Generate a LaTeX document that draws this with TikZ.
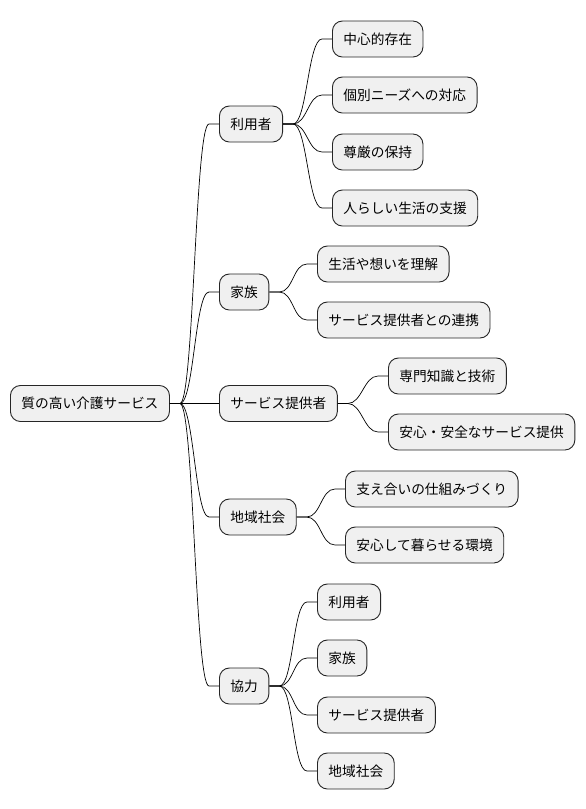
\documentclass[tikz,border=0pt]{standalone}
\usepackage{fontspec}
\setmainfont{Noto Sans CJK JP}
\usetikzlibrary{positioning}
\def\Branch#1#2{
    \draw[link] (#1.east) -- ([xshift=10pt]#1.east)
        .. controls ([xshift=24pt]#1.east) and ([xshift=-24pt]#2.west)
        .. ([xshift=-10pt]#2.west) -- (#2.west);
}
\begin{document}
\begin{tikzpicture}[x=1pt,y=-1pt,
    topic/.style={draw=black!85,fill=black!6,rounded corners=10pt,line width=0.9pt,
        minimum height=36pt,inner xsep=11pt,inner ysep=0pt,
        font=\fontsize{13.7}{16}\selectfont},
    link/.style={draw=black,line width=0.7pt}]
    \useasboundingbox (0,0) rectangle (586,809);
    % root
    \node[topic,anchor=west] (root) at (10,403.5) {質の高い介護サービス};
    % first level
    \node[topic,anchor=west] (user) at (219,124) {利用者};
    \node[topic,anchor=west] (family) at (219,292) {家族};
    \node[topic,anchor=west] (provider) at (219,403.5) {サービス提供者};
    \node[topic,anchor=west] (community) at (219,517) {地域社会};
    \node[topic,anchor=west] (coop) at (219,686) {協力};
    % leaves
    \node[topic,anchor=west] (user-1) at (332,39) {中心的存在};
    \node[topic,anchor=west] (user-2) at (332,95) {個別ニーズへの対応};
    \node[topic,anchor=west] (user-3) at (332,152) {尊厳の保持};
    \node[topic,anchor=west] (user-4) at (332,208) {人らしい生活の支援};
    \node[topic,anchor=west] (family-1) at (317,264) {生活や想いを理解};
    \node[topic,anchor=west] (family-2) at (317,320) {サービス提供者との連携};
    \node[topic,anchor=west] (provider-1) at (388,376) {専門知識と技術};
    \node[topic,anchor=west] (provider-2) at (388,432) {安心・安全なサービス提供};
    \node[topic,anchor=west] (community-1) at (345,489) {支え合いの仕組みづくり};
    \node[topic,anchor=west] (community-2) at (345,545) {安心して暮らせる環境};
    \node[topic,anchor=west] (coop-1) at (317,602) {利用者};
    \node[topic,anchor=west] (coop-2) at (317,658) {家族};
    \node[topic,anchor=west] (coop-3) at (317,715) {サービス提供者};
    \node[topic,anchor=west] (coop-4) at (317,771) {地域社会};
    % connectors
    \foreach \c in {user,family,provider,community,coop}{\Branch{root}{\c}}
    \foreach \i in {1,...,4}{\Branch{user}{user-\i}}
    \foreach \i in {1,2}{\Branch{family}{family-\i}}
    \foreach \i in {1,2}{\Branch{provider}{provider-\i}}
    \foreach \i in {1,2}{\Branch{community}{community-\i}}
    \foreach \i in {1,...,4}{\Branch{coop}{coop-\i}}
\end{tikzpicture}
\end{document}
